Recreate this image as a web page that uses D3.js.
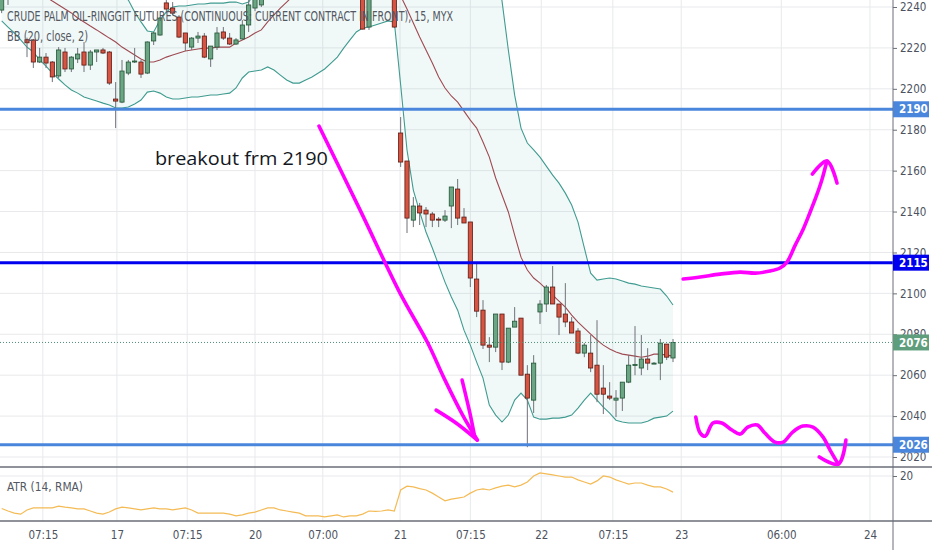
<!DOCTYPE html>
<html><head><meta charset="utf-8">
<script src="https://cdn.jsdelivr.net/npm/d3@7"></script>
<style>body{margin:0;background:#fff;overflow:hidden}svg{display:block}</style>
</head><body><svg id="c" width="932" height="550"></svg>
<script>
// ---------------- DATA ----------------
const startIndex = -4; // bar index of first entry
const ohlc = [
[2238.5,2248,2237,2246],[2250,2253,2241,2248],[2248,2254,2245,2251],[2251,2253,2245,2246],
[2224,2225,2215.5,2222.5],[2223.9,2224.4,2210.2,2213.1],[2213.1,2220,2212.6,2215.5],[2215.5,2217.5,2210.2,2212.6],
[2213.1,2213.6,2203.3,2205.8],[2206.3,2220.4,2205.3,2219],[2218,2220,2208.2,2209.7],[2209.7,2216,2208.2,2215.5],
[2214.6,2220,2212.6,2217],[2218,2222.9,2208.2,2211.6],[2211.6,2219,2209.2,2218],[2218,2219,2213.1,2219],
[2219,2220,2217,2217.5],[2218,2218.5,2201.9,2202.8],[2195,2203.3,2180.8,2194],[2193.5,2214.1,2193,2208.7],
[2207.7,2214.1,2206.7,2213.1],[2213.1,2220,2212.6,2213.6],[2213.1,2214.1,2205.3,2207.2],[2207.7,2223.2,2207.2,2222.9],
[2223.4,2227.8,2221.4,2227.3],[2226.3,2235.1,2226,2234.6],[2242,2243.4,2237,2239],[2239.5,2242.4,2236,2237],
[2235.1,2236,2224.8,2225.3],[2227.3,2227.3,2218.5,2222.4],[2220.4,2225.3,2219,2224.8],[2224.8,2227.8,2222.4,2225.8],
[2225.8,2227.3,2215,2215.5],[2214.6,2220.9,2210.7,2220.9],[2220.4,2230.2,2219,2227.3],[2227.8,2230.2,2223.9,2224.8],
[2224.8,2227.3,2221.4,2221.9],[2221.9,2224.8,2221.4,2223.9],[2224.4,2233.6,2223.9,2231.2],[2231.2,2243.4,2227.8,2241],
[2239.5,2248,2238,2246],[2241,2252,2240,2250],[2250,2258,2248,2256],[2256,2262,2252,2260],
[2260,2266,2255,2258],[2258,2264,2252,2262],[2262,2270,2258,2266],[2266,2272,2260,2262],
[2262,2268,2256,2260],[2260,2264,2254,2256],[2256,2262,2250,2258],[2258,2261,2250,2252],
[2252,2258,2248,2255],[2255,2259,2249,2250],[2250,2256,2246,2253],[2253,2257,2247,2249],
[2249,2256,2245,2252],[2252,2255,2229,2229.2],[2230.2,2252,2228.8,2248],[2248,2255,2245,2252],
[2252,2258,2247,2250],[2250,2256,2246,2252],[2252,2254,2229.7,2230.2],
[2178.4,2186.2,2161.8,2164.2],[2164.7,2164.7,2129.5,2136.8],[2135.8,2147.1,2132.4,2142.7],[2142.7,2144.2,2133.4,2139.3],
[2140.7,2142.2,2132.4,2138.8],[2138.8,2139.8,2132.4,2135.8],[2136.3,2137.3,2132.4,2136],[2135.8,2140.7,2134.9,2137.8],
[2142.7,2152,2131.9,2152],[2151,2155.9,2133.4,2136.8],[2137.3,2141.7,2134.4,2134.4],[2134.9,2134.9,2103.1,2107.5],
[2107,2114.8,2088.4,2091.3],[2091.8,2096.7,2072.8,2074.7],[2074.7,2078.6,2066.4,2073.7],[2073.7,2089.9,2071.3,2089.9],
[2089.9,2089.9,2062.5,2066.4],[2066.4,2083,2065.9,2083],[2083.5,2093.3,2083.5,2086.4],[2087.9,2087.9,2060,2060],
[2060.5,2064.9,2024.8,2048.8],[2047.8,2069.8,2041.5,2065.9],[2090.9,2096.7,2085,2094.8],[2094.8,2104.1,2090.9,2103.1],
[2103.1,2113.4,2094.8,2094.8],[2094.8,2094.8,2079.6,2088.4],[2089.9,2105,2083.5,2086],[2086,2088.4,2080.6,2080.6],
[2081.6,2083,2070.3,2070.8],[2070.8,2075.7,2068.8,2074.7],[2070.8,2079.6,2061.5,2063.5],[2064.9,2086.9,2046.8,2050.7],
[2053.7,2064.9,2041,2050.7],[2049.8,2056.6,2047.8,2048.8],[2047.8,2052.7,2039.5,2048.8],[2048.8,2056.6,2042.5,2056.6],
[2056.6,2069.8,2056.1,2064.9],[2064.9,2084,2060,2065.2],[2063.5,2079.6,2060,2067.9],[2067.9,2073.2,2062.5,2065.9],
[2065.9,2066.4,2065.4,2065.9],[2065.9,2077.7,2057.6,2075.7],[2075.2,2075.2,2067.4,2068.8],[2068.4,2077.7,2066.4,2076]
];
const bbUpper = [
2278,2277.2,2276.1,2275.7,2276.2,2275.6,2277.7,2278.7,2278.1,2277.2,2276.1,2274.8,2271.3,2269.4,2266.4,2263.6,2260.6,2257.5,2255.2,
2246,2243.4,2237.6,2232.7,2228.3,2227.8,2233.6,2237.6,2240.0,2240.5,2240.5,2241.0,2241.5,2241.5,2241.9,2241.9,2241.9,2242.4,2242.4,2241.5,2242.4,2247,
2248.4,2254.7,2263,2272.3,2280.5,2288,2293.2,2295.7,2298.2,2298.3,2298.3,2297.4,2296.5,2292.1,2288.1,2284.2,2280.3,2279.8,2276.8,2275.8,2272.8,2271.3,
2288.9,2307.9,2313.9,2310.8,2308,2303,2297.8,2295.3,2294.8,2295.2,2296.2,2294.7,2295.2,2291.2,2286.6,2262,
2243,2219.0,2196.9,2180.8,2173.5,2170.1,2166.6,2162.2,2157.8,2153.9,2149.0,2143.2,2134.8,2122.2,2109.9,2106.5,2107.0,2107.5,2107.0,2106.0,2105.0,2104.5,2103.6,2103.1,2102.6,2102.1,2098.7,2094.3
];
const bbMiddle = [
2255.6,2253.7,2251.7,2249.8,2248.3,2246.8,2245.9,
2244.9,2242.9,2241.0,2239.0,2237.1,2234.6,2232.7,2230.7,2228.8,2226.8,2224.8,2222.9,2220.4,2218.5,2216.5,2214.6,2213.1,2213.1,2214.1,2215.5,2216.5,2217.5,2218.5,2219.0,2219.5,2219.9,2219.9,2220.4,2220.4,2220.4,2222.4,2223.9,2225.3,2227.3,2228.8,2232.7,2236.1,2239.5,2242.4,2245.4,
2248,2250,2252,2253,2254,2255,2256,2256,2256,2256,2255,2255,2254,2254,2253,2252,
2245.4,2239.0,2232.2,2225.3,2219.0,2212.6,2205.8,2200.4,2196.5,2193.5,2189.1,2184.7,2180.8,2174.0,2166.6,2156.4,2148.1,2139.8,2128.5,2117.7,2111.4,2107.5,2105.0,2102.1,2099.1,2096.2,2093.3,2089.4,2085.9,2083.0,2080.1,2077.2,2074.7,2072.8,2071.3,2070.3,2069.8,2069.3,2068.8,2069.3,2070.3,2070.3,2069.8,2069.3
];
const bbLower = [
2233.2,2230.2,2227.3,2223.9,2220.4,2218.0,2214.1,2211.1,2207.7,2204.8,2201.9,2199.4,2197.9,2196.0,2195.0,2194.0,2193.0,2192.1,2190.6,
2190.6,2191.1,2192.6,2194.5,2198.4,2198.9,2197.9,2196.0,2195.0,2195.0,2195.5,2196.0,2196.0,2196.5,2197.0,2197.0,2197.5,2197.9,2200.4,2205.3,2208.2,2208.7,
2209.2,2210.7,2209.2,2206.7,2204.3,2202.8,2202.8,2204.3,2205.8,2207.7,2209.7,2212.6,2215.5,2219.9,2223.9,2227.8,2229.7,2230.2,2231.2,2232.2,2233.2,2232.7,
2201.9,2170.1,2150.5,2139.8,2130.0,2122.2,2113.8,2105.5,2098.2,2091.8,2082.0,2074.7,2066.4,2058.6,2045.4,2040.5,2037.1,2040.5,2047.8,2051.2,2047.8,2039.5,2038.5,2038.5,2039.0,2039.0,2039.5,2040.5,2043.9,2047.8,2051.2,2047.8,2044.4,2041.5,2038.0,2037.1,2036.6,2036.6,2036.6,2037.5,2039.0,2039.5,2040.0,2042.4
];
const atr = [
10.7,10.0,9.4,9.1,10.3,10.9,10.9,10.9,10.9,11.4,11.1,10.9,10.6,10.6,10.0,9.4,9.1,9.7,10.6,
11.1,10.9,10.6,10.3,10.6,10.9,10.6,10.6,10.3,10.6,10.9,10.3,9.4,9.4,9.4,9.4,9.4,9.1,8.6,8.9,9.4,9.7,
10.3,10.9,10.9,10.3,10.0,9.7,9.4,8.6,8.6,8.6,8.3,8.6,8.9,8.3,8.6,8.6,9.1,10.0,9.9,10.0,10.3,10.0,
16.0,17.1,16.9,16.4,16.0,15.1,14.0,12.9,13.4,13.7,14.0,15.1,16.0,16.3,16.0,16.6,17.1,17.4,16.9,17.4,18.3,20.0,20.9,20.6,20.3,20.0,19.7,19.7,18.9,18.3,17.7,18.6,20.0,19.7,18.9,18.3,17.7,18.0,18.0,17.4,16.9,16.9,16.3,15.4
];
const priceTicks = [2020,2040,2060,2080,2100,2120,2140,2160,2180,2200,2220,2240];
const atrTicks = [20];
const timeTickPos = [2.5,14.2,25.3,36.0,46.7,58.9,70.0,81.2,92.5,103.3,119.1,133.1];
const timeTickLabels = ["07:15","17","07:15","20","07:00","21","07:15","22","07:15","23","06:00","24"];
const levelPrices = [2190,2115,2026];
const levelColors = ["#4a86dc","#0000ee","#4a86dc"];
const lastPrice = 2076;
const titleText = "CRUDE PALM OIL-RINGGIT FUTURES (CONTINUOUS: CURRENT CONTRACT IN FRONT), 15, MYX";
const bbText = "BB (20, close, 2)";
const atrText = "ATR (14, RMA)";
const noteText = "breakout frm 2190";
const notePos = [20.2, 2162.7];
// freehand drawings, in [bar index, price]
const drawings = [
 [[46.1,2181.8],[52.6,2140.7],[58.9,2100.1],[63.2,2076.2],[66.0,2057.6],[68.7,2041.0],[71.1,2028.3]],
 [[64.6,2042.9],[67.8,2036.5],[71.1,2028.3]],
 [[68.7,2057.6],[69.9,2041.9],[70.7,2029.7]],
 [[103.6,2107.0],[106.3,2108.0],[109.4,2109.4],[112.6,2110.4],[115.0,2109.9],[117.3,2110.9],[118.9,2112.4],[120.0,2115.3],[121.3,2123.6],[122.5,2131.0],[123.6,2139.3],[124.7,2148.1],[125.5,2155.4],[126.3,2164.7]],
 [[124.0,2158.3],[126.3,2164.7],[127.9,2153.9]],
 [[105.6,2039.5],[106.3,2031.7],[107.1,2030.2],[108.3,2036.6],[109.7,2036.6],[111.3,2033.2],[112.6,2031.2],[113.8,2034.6],[115.3,2035.6],[116.5,2031.7],[118.1,2027.3],[119.4,2027.3],[120.9,2032.2],[122.5,2035.1],[124.1,2034.6],[125.7,2029.7],[126.8,2023.4],[128.1,2016.5]],
 [[125.1,2020.0],[128.1,2016.5],[129.3,2028.3]]
];

// ---------------- LAYOUT ----------------
const W = 932, H = 550;
const plotRight = 893, mainBottom = 467, atrTop = 468, atrBottom = 521;
const svg = d3.select("#c");
const x = d3.scaleLinear().domain([0, 102]).range([27, 673]);
const y = d3.scaleLinear().domain([2020, 2240]).range([457, 7]);
const ya = d3.scaleLinear().domain([8, 22]).range([518, 469]);
const FONT = "'Liberation Sans Narrow','DejaVu Sans Condensed','Liberation Sans',sans-serif";
const bars = ohlc.map((d, k) => ({i: startIndex + k, o: d[0], h: d[1], l: d[2], c: d[3]}));
const series = arr => arr.map((v, k) => ({i: startIndex + k, v}));

svg.append("rect").attr("width", W).attr("height", H).attr("fill", "#fff");
const defs = svg.append("defs");
defs.append("clipPath").attr("id", "mainClip").append("rect").attr("x", 0).attr("y", 0).attr("width", plotRight).attr("height", mainBottom);
defs.append("clipPath").attr("id", "atrClip").append("rect").attr("x", 0).attr("y", atrTop).attr("width", plotRight).attr("height", atrBottom - atrTop);

// grid
const grid = svg.append("g");
grid.selectAll(".hg").data(priceTicks).join("line")
  .attr("x1", 0).attr("x2", plotRight).attr("y1", d => y(d)).attr("y2", d => y(d))
  .attr("stroke", "#e8e9ec").attr("stroke-width", 1);
grid.selectAll(".vg").data(timeTickPos).join("line")
  .attr("x1", d => x(d)).attr("x2", d => x(d)).attr("y1", 0).attr("y2", atrBottom)
  .attr("stroke", "#e8e9ec").attr("stroke-width", 1);
grid.selectAll(".ag").data(atrTicks).join("line")
  .attr("x1", 0).attr("x2", plotRight).attr("y1", d => ya(d)).attr("y2", d => ya(d))
  .attr("stroke", "#e8e9ec");

// main pane
const main = svg.append("g").attr("clip-path", "url(#mainClip)");
const upS = series(bbUpper), midS = series(bbMiddle), loS = series(bbLower);
const band = bbUpper.map((u, k) => ({i: startIndex + k, u, l: bbLower[k]}));
main.append("path").datum(band)
  .attr("d", d3.area().x(d => x(d.i)).y0(d => y(d.l)).y1(d => y(d.u)))
  .attr("fill", "rgba(0,150,136,0.055)");
const ln = d3.line().x(d => x(d.i)).y(d => y(d.v));
main.append("path").datum(upS).attr("d", ln).attr("fill", "none").attr("stroke", "#3f9b90").attr("stroke-width", 1.1);
main.append("path").datum(loS).attr("d", ln).attr("fill", "none").attr("stroke", "#3f9b90").attr("stroke-width", 1.1);
main.append("path").datum(midS).attr("d", ln).attr("fill", "none").attr("stroke", "#9e4a52").attr("stroke-width", 1.1);

// candles
const cg = main.append("g");
cg.selectAll(".wick").data(bars).join("line")
  .attr("x1", d => x(d.i)).attr("x2", d => x(d.i))
  .attr("y1", d => y(d.h)).attr("y2", d => y(d.l))
  .attr("stroke", "#6f7178").attr("stroke-width", 1);
const bw = (x(1) - x(0)) * 0.66;
cg.selectAll(".body").data(bars).join("rect")
  .attr("x", d => x(d.i) - bw / 2).attr("width", bw)
  .attr("y", d => y(Math.max(d.o, d.c)))
  .attr("height", d => Math.max(1, Math.abs(y(d.o) - y(d.c))))
  .attr("fill", d => d.c >= d.o ? "#6ba583" : "#d75442")
  .attr("stroke", d => d.c >= d.o ? "#225437" : "#5b1a13")
  .attr("stroke-width", 0.8);

// level lines
main.selectAll(".lvl").data(levelPrices).join("line")
  .attr("x1", 0).attr("x2", plotRight).attr("y1", d => y(d)).attr("y2", d => y(d))
  .attr("stroke", (d, k) => levelColors[k]).attr("stroke-width", 3);
main.append("line").attr("x1", 0).attr("x2", plotRight).attr("y1", y(lastPrice)).attr("y2", y(lastPrice))
  .attr("stroke", "#4c9173").attr("stroke-width", 1).attr("stroke-dasharray", "1,2");

// drawings
const dl = d3.line().x(d => x(d[0])).y(d => y(d[1])).curve(d3.curveCatmullRom);
main.selectAll(".draw").data(drawings).join("path")
  .attr("d", dl).attr("fill", "none").attr("stroke", "#ff00ff").attr("stroke-width", 3.6)
  .attr("stroke-linecap", "round").attr("stroke-linejoin", "round");
main.append("text").attr("x", x(notePos[0])).attr("y", y(notePos[1]))
  .attr("font-family", "'Open Sans','Noto Sans',sans-serif").attr("font-size", 18.5)
  .attr("fill", "#131722").attr("textLength", 173).attr("lengthAdjust", "spacingAndGlyphs").text(noteText);

// legend text
svg.append("text").attr("x", 7).attr("y", 21).attr("font-family", FONT).attr("font-size", 13.5)
  .attr("fill", "#535862").attr("textLength", 446).attr("lengthAdjust", "spacingAndGlyphs").text(titleText);
svg.append("text").attr("x", 7).attr("y", 41).attr("font-family", FONT).attr("font-size", 13.5)
  .attr("fill", "#535862").attr("textLength", 81).attr("lengthAdjust", "spacingAndGlyphs").text(bbText);

// ATR pane
const atrG = svg.append("g").attr("clip-path", "url(#atrClip)");
atrG.append("path").datum(series(atr)).attr("d", d3.line().x(d => x(d.i)).y(d => ya(d.v)))
  .attr("fill", "none").attr("stroke", "#f4bb55").attr("stroke-width", 1.2);
svg.append("text").attr("x", 7).attr("y", 491).attr("font-family", FONT).attr("font-size", 13)
  .attr("fill", "#535862").attr("textLength", 76).attr("lengthAdjust", "spacingAndGlyphs").text(atrText);

// separators and axis border
svg.append("line").attr("x1", 0).attr("x2", W).attr("y1", mainBottom).attr("y2", mainBottom).attr("stroke", "#6b6e78").attr("stroke-width", 1.6);
svg.append("line").attr("x1", 0).attr("x2", W).attr("y1", atrBottom).attr("y2", atrBottom).attr("stroke", "#6b6e78").attr("stroke-width", 1.6);
svg.append("line").attr("x1", plotRight).attr("x2", plotRight).attr("y1", 0).attr("y2", H).attr("stroke", "#6b6e78").attr("stroke-width", 1);

// price axis
const styleAxis = g => {
  g.select(".domain").remove();
  g.selectAll(".tick line").attr("stroke", "#6b6e78");
  g.selectAll(".tick text").attr("fill", "#4c525e").attr("font-family", FONT).attr("font-size", 11.5);
};
svg.append("g").attr("transform", `translate(${plotRight},0)`)
  .call(d3.axisRight(y).tickValues(priceTicks).tickSize(4).tickPadding(3).tickFormat(d3.format("d")))
  .call(styleAxis);
svg.append("g").attr("transform", `translate(${plotRight},0)`)
  .call(d3.axisRight(ya).tickValues(atrTicks).tickSize(4).tickPadding(3).tickFormat(d3.format("d")))
  .call(styleAxis);

// price labels
const labels = levelPrices.map((p, k) => ({p, c: levelColors[k]})).concat([{p: lastPrice, c: "#5e9e7c"}]);
const lg = svg.append("g");
lg.selectAll("rect").data(labels).join("rect")
  .attr("x", plotRight).attr("y", d => y(d.p) - 8).attr("width", 36).attr("height", 16).attr("fill", d => d.c);
lg.selectAll("text").data(labels).join("text")
  .attr("x", plotRight + 6).attr("y", d => y(d.p)).attr("dy", "0.36em")
  .attr("fill", "#fff").attr("font-family", FONT).attr("font-size", 11.5).attr("font-weight", "bold")
  .text(d => d.p);

// time axis
svg.append("g").attr("transform", `translate(0,${atrBottom})`)
  .call(d3.axisBottom(x).tickValues(timeTickPos).tickSize(0).tickPadding(10).tickFormat((d, k) => timeTickLabels[k]))
  .call(styleAxis);
</script></body></html>
